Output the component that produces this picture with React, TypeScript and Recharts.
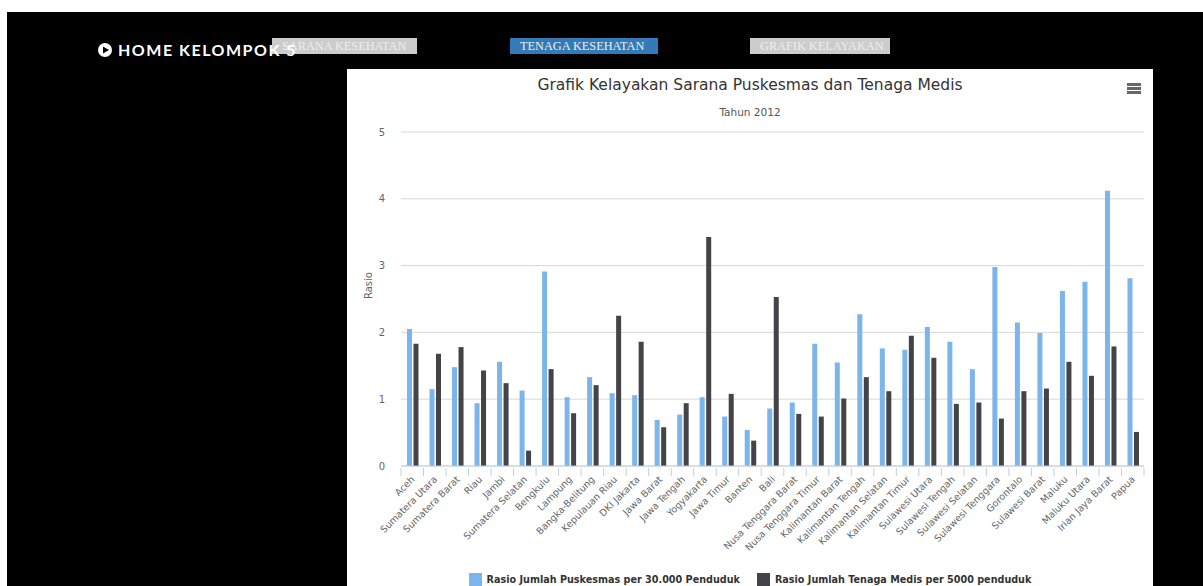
import { Bar, BarChart, CartesianGrid, Label, Legend, XAxis, YAxis } from "recharts";

const provinces = [
  "Aceh", "Sumatera Utara", "Sumatera Barat", "Riau", "Jambi", "Sumatera Selatan", "Bengkulu",
  "Lampung", "Bangka-Belitung", "Kepulauan Riau", "DKI Jakarta", "Jawa Barat", "Jawa Tengah",
  "Yogyakarta", "Jawa Timur", "Banten", "Bali", "Nusa Tenggara Barat", "Nusa Tenggara Timur",
  "Kalimantan Barat", "Kalimantan Tengah", "Kalimantan Selatan", "Kalimantan Timur",
  "Sulawesi Utara", "Sulawesi Tengah", "Sulawesi Selatan", "Sulawesi Tenggara", "Gorontalo",
  "Sulawesi Barat", "Maluku", "Maluku Utara", "Irian Jaya Barat", "Papua",
];
const puskesmas = [
  2.05, 1.15, 1.48, 0.94, 1.56, 1.13, 2.91, 1.03, 1.33, 1.09, 1.06, 0.69, 0.77, 1.03, 0.74, 0.54, 0.86,
  0.95, 1.83, 1.55, 2.27, 1.76, 1.74, 2.08, 1.86, 1.45, 2.98, 2.15, 1.99, 2.62, 2.76, 4.12, 2.81,
];
const tenagaMedis = [
  1.83, 1.68, 1.78, 1.43, 1.24, 0.23, 1.45, 0.79, 1.21, 2.25, 1.86, 0.58, 0.94, 3.43, 1.08, 0.38, 2.53,
  0.78, 0.74, 1.01, 1.33, 1.12, 1.95, 1.62, 0.93, 0.95, 0.71, 1.12, 1.16, 1.56, 1.35, 1.79, 0.51,
];
const yTicks = [0, 1, 2, 3, 4, 5];

const PUSKESMAS_NAME = "Rasio Jumlah Puskesmas per 30.000 Penduduk";
const MEDIS_NAME = "Rasio Jumlah Tenaga Medis per 5000 penduduk";
const rows = provinces.map((name, i) => ({ name, a: puskesmas[i], b: tenagaMedis[i] }));

const FONT = "'DejaVu Sans', sans-serif";

function ProvinceTick({ x, y, payload, index }: any) {
  const half = payload.offset ?? 11.25;
  const last = index === provinces.length - 1;
  return (
    <g>
      <line x1={x - half} x2={x - half} y1={y - 8} y2={y} stroke="#C0D0E0" />
      {last && <line x1={x + half} x2={x + half} y1={y - 8} y2={y} stroke="#C0D0E0" />}
      <text
        x={x + 3}
        y={y + 4}
        textAnchor="end"
        fontSize={9.5}
        fontFamily={FONT}
        fill="#666"
        transform={`rotate(-45 ${x + 3} ${y + 4})`}
      >
        {payload.value}
      </text>
    </g>
  );
}

function NavButton({ left, width, bg, color, text }: any) {
  return (
    <div
      style={{
        position: "absolute", left, top: 38, width, height: 16, background: bg, color,
        fontFamily: "'Liberation Serif', serif", fontSize: 12.3, lineHeight: "16px", paddingLeft: 10,
        boxSizing: "border-box", whiteSpace: "nowrap",
      }}
    >
      {text}
    </div>
  );
}

export default function App() {
  return (
    <div style={{ position: "fixed", left: 0, top: 0, width: 1203, height: 586, overflow: "hidden", background: "#fff" }}>
      <div style={{ position: "absolute", left: 7, top: 12, width: 1196, height: 574, background: "#000" }} />

      <NavButton left={272} width={145} bg="#ccc" color="#eee" text="SARANA KESEHATAN" />
      <NavButton left={510} width={148} bg="#337ab7" color="#eee" text="TENAGA KESEHATAN" />
      <NavButton left={750} width={140} bg="#ccc" color="#eee" text="GRAFIK KELAYAKAN" />

      {/* the brand text runs over the first button in the original page */}
      <svg style={{ position: "absolute", left: 98, top: 43 }} width={14} height={14}>
        <circle cx={7} cy={7} r={7} fill="#fff" />
        <polygon points="5,3.5 11,7 5,10.5" fill="#000" />
      </svg>
      <div
        style={{
          position: "absolute", left: 118, top: 40, color: "#fff", fontFamily: "Lato, sans-serif",
          fontWeight: 700, fontSize: 16, lineHeight: "20px", letterSpacing: 1.5, whiteSpace: "nowrap",
        }}
      >
        HOME KELOMPOK 5
      </div>

      <div style={{ position: "absolute", left: 347, top: 69, width: 806, height: 517, background: "#fff" }}>
        <div
          style={{
            position: "absolute", left: 0, width: 806, top: 6, textAlign: "center", color: "#333",
            fontFamily: FONT, fontSize: 15.5, lineHeight: "20px",
          }}
        >
          Grafik Kelayakan Sarana Puskesmas dan Tenaga Medis
        </div>
        <div
          style={{
            position: "absolute", left: 0, width: 806, top: 36, textAlign: "center", color: "#555",
            fontFamily: FONT, fontSize: 10.5, lineHeight: "14px",
          }}
        >
          Tahun 2012
        </div>
        {[14, 18, 22].map((top) => (
          <div key={top} style={{ position: "absolute", left: 780, top, width: 14, height: 3, background: "#666" }} />
        ))}
        <BarChart
          width={806}
          height={517}
          data={rows}
          barSize={5}
          barGap={1.5}
          margin={{ top: 63, right: 9, left: 0, bottom: 0 }}
        >
          <CartesianGrid horizontal vertical={false} stroke="#D8D8D8" />
          <XAxis
            dataKey="name"
            interval={0}
            height={92}
            tickLine={false}
            tickSize={8}
            axisLine={{ stroke: "#C0D0E0" }}
            tick={<ProvinceTick />}
          />
          <YAxis
            width={54}
            domain={[0, 5]}
            ticks={yTicks}
            axisLine={false}
            tickLine={false}
            tickMargin={10}
            tick={{ fill: "#666", fontSize: 10, fontFamily: FONT }}
          >
            <Label value="Rasio" angle={-90} position="insideLeft" offset={21} fill="#666" fontSize={10} fontFamily={FONT} />
          </YAxis>
          <Legend
            verticalAlign="bottom"
            iconType="square"
            iconSize={13}
            height={28}
            wrapperStyle={{ bottom: -11, transform: "translateX(13px)" }}
            formatter={(value) => (
              <span style={{ color: "#333", fontWeight: 700, fontSize: 9.65, fontFamily: FONT, marginLeft: 1, marginRight: 7 }}>
                {value}
              </span>
            )}
          />
          <Bar dataKey="a" name={PUSKESMAS_NAME} fill="#7CB5EC" isAnimationActive={false} />
          <Bar dataKey="b" name={MEDIS_NAME} fill="#434348" isAnimationActive={false} />
        </BarChart>
      </div>
    </div>
  );
}
